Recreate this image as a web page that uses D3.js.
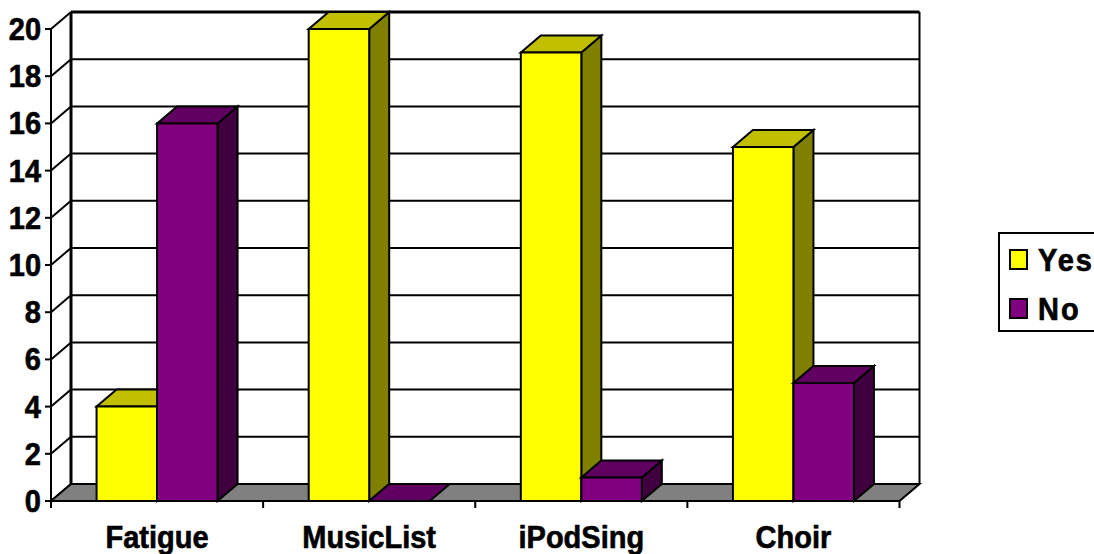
<!DOCTYPE html>
<html>
<head>
<meta charset="utf-8">
<style>
html,body{margin:0;padding:0;background:#fff;overflow:hidden}
text{font-family:"Liberation Sans",Arial,sans-serif;font-weight:bold;fill:#000;stroke:#000;stroke-width:.6px}
</style>
<script src="https://cdn.jsdelivr.net/npm/d3@7"></script>
</head>
<body>
<script>
const categories = ["Fatigue", "MusicList", "iPodSing", "Choir"];
const seriesNames = ["Yes", "No"];
const yesValues = [4, 20, 19, 15];
const noValues = [16, 0, 1, 5];
const yTicks = [0, 2, 4, 6, 8, 10, 12, 14, 16, 18, 20];

const palette = {
  Yes: {front: "#ffff00", top: "#c0c000", side: "#808000"},
  No: {front: "#800080", top: "#600060", side: "#400040"}
};
const seriesValues = {Yes: yesValues, No: noValues};

const width = 1094, height = 554;
const depthX = 20, depthY = 17;
const stroke = "#000", lw = 2;
const tall = 1.1;

const x = d3.scaleBand().domain(categories).range([51, 899.5]);
const y = d3.scaleLinear().domain([0, 20]).range([501, 29]);
const barW = 60.5;
const inner = d3.scaleBand().domain(seriesNames)
  .range([-barW, barW]);

const svg = d3.select("body").append("svg")
  .attr("width", width).attr("height", height)
  .style("display", "block");

const poly = (pts, fill, parent = svg) => parent.append("polygon")
  .attr("points", pts.map(p => p.join(",")).join(" "))
  .attr("fill", fill).attr("stroke", stroke)
  .attr("stroke-width", lw).attr("stroke-linejoin", "miter");
const line = (x1, y1, x2, y2, w = lw) => svg.append("line")
  .attr("x1", x1).attr("y1", y1).attr("x2", x2).attr("y2", y2)
  .attr("stroke", stroke).attr("stroke-width", w);
const place = (px, py) => `translate(${px},${py}) scale(1,${tall})`;

const [x0, x1] = x.range();
const y0 = y(0), yTop = y(20);

// Back and side walls
line(x0 + depthX, y0 - depthY, x0 + depthX, yTop - depthY, 3);
line(x1 + depthX, y0 - depthY, x1 + depthX, yTop - depthY);
yTicks.forEach(t => {
  const yy = y(t);
  if (t > 0) line(x0 + depthX, yy - depthY, x1 + depthX, yy - depthY, t === 20 ? 3 : lw);
  line(x0 - 6, yy, x0, yy);
  line(x0, yy, x0 + depthX, yy - depthY);
});
line(x0, y0 + 7, x0, yTop);

// Floor
poly([[x0, y0], [x0 + depthX, y0 - depthY], [x1 + depthX, y0 - depthY], [x1, y0]], "#808080");
x.domain().forEach(c => line(x(c), y0, x(c), y0 + 7));
line(x1, y0, x1, y0 + 7);

// Draw one extruded bar: side face, top face, then front face
function bar3d(left, right, value, col) {
  const t = y(value);
  if (value > 0) {
    poly([[right, y0], [right + depthX, y0 - depthY], [right + depthX, t - depthY], [right, t]], col.side);
  }
  poly([[left, t], [left + depthX, t - depthY], [right + depthX, t - depthY], [right, t]], col.top);
  if (value > 0) {
    poly([[left, y0], [left, t], [right, t], [right, y0]], col.front);
  }
}

categories.forEach((c, i) => {
  const mid = x(c) + x.bandwidth() / 2;
  seriesNames.forEach(s => {
    const left = mid + inner(s);
    bar3d(left, left + inner.bandwidth(), seriesValues[s][i], palette[s]);
  });
});

// Value axis labels
svg.selectAll("text.ytick").data(yTicks).join("text")
  .attr("class", "ytick")
  .attr("transform", d => place(41, y(d) + 11))
  .attr("text-anchor", "end").attr("font-size", 29)
  .text(d => d);

// Category labels
svg.selectAll("text.cat").data(categories).join("text")
  .attr("class", "cat")
  .attr("transform", d => place(x(d) + x.bandwidth() / 2, 548))
  .attr("text-anchor", "middle").attr("font-size", 29)
  .text(d => d);

// Legend box runs off the right edge
svg.append("rect").attr("x", 999).attr("y", 233)
  .attr("width", 120).attr("height", 98)
  .attr("fill", "#fff").attr("stroke", stroke).attr("stroke-width", lw);
const legendRow = d3.scalePoint().domain(seriesNames).range([260, 309]);
seriesNames.forEach(s => {
  const cy = legendRow(s);
  svg.append("rect").attr("x", 1010).attr("y", cy - 10)
    .attr("width", 17).attr("height", 19)
    .attr("fill", palette[s].front).attr("stroke", stroke).attr("stroke-width", lw);
  svg.append("text").attr("transform", place(1038, cy + 11))
    .attr("font-size", 29).attr("letter-spacing", 2).text(s);
});
</script>
</body>
</html>
